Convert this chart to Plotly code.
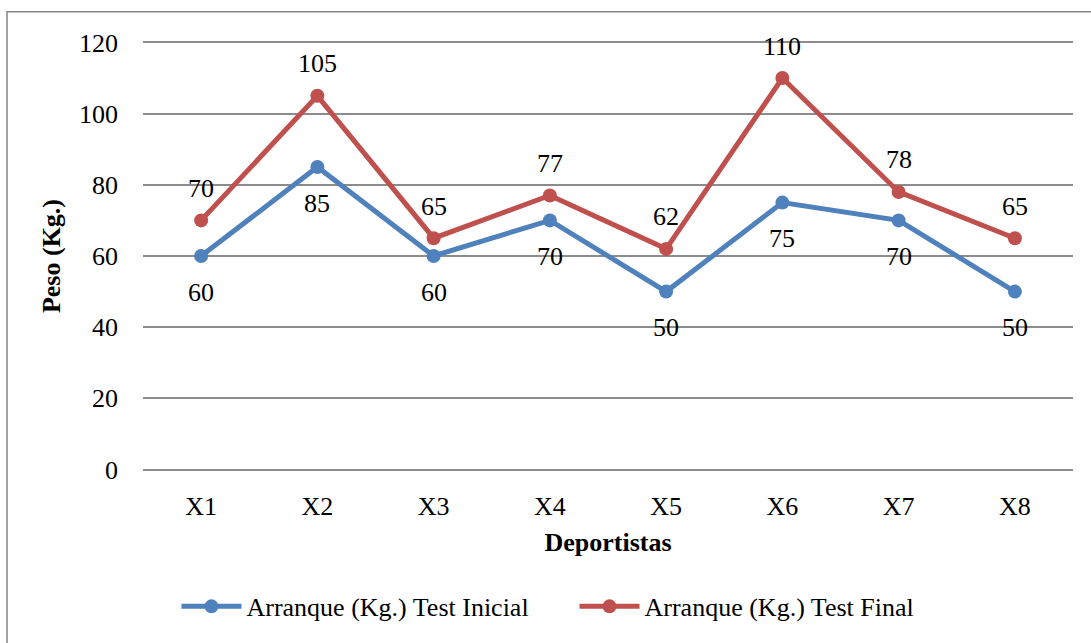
import plotly.graph_objects as go

categories = ["X1", "X2", "X3", "X4", "X5", "X6", "X7", "X8"]
test_inicial = [60, 85, 60, 70, 50, 75, 70, 50]
test_final = [70, 105, 65, 77, 62, 110, 78, 65]
y_ticks = [0, 20, 40, 60, 80, 100, 120]

BLUE = "#4F81BD"
RED = "#C0504D"
FONT = "Liberation Serif"
GRID = "#8C8C8C"
FS = 26

fig = go.Figure()
fig.add_trace(go.Scatter(
    x=categories, y=test_inicial, mode="lines+markers",
    name="Arranque (Kg.) Test Inicial", legend="legend",
    line=dict(color=BLUE, width=5), marker=dict(size=14, color=BLUE),
))
fig.add_trace(go.Scatter(
    x=categories, y=test_final, mode="lines+markers",
    name="Arranque (Kg.) Test Final", legend="legend2",
    line=dict(color=RED, width=5), marker=dict(size=14, color=RED),
))

annotations = []
for c, v in zip(categories, test_inicial):
    annotations.append(dict(x=c, y=v, text=str(v), showarrow=False, yshift=-36,
                            font=dict(family=FONT, size=FS, color="black")))
for c, v in zip(categories, test_final):
    annotations.append(dict(x=c, y=v, text=str(v), showarrow=False, yshift=32,
                            font=dict(family=FONT, size=FS, color="black")))

leg_common = dict(orientation="h", y=-0.315, yanchor="middle", xanchor="left",
                  font=dict(family=FONT, size=FS, color="black"),
                  itemwidth=60, bgcolor="rgba(0,0,0,0)")

fig.update_layout(
    width=1091, height=643,
    margin=dict(l=143, r=18, t=41, b=172),
    paper_bgcolor="white", plot_bgcolor="white",
    font=dict(family=FONT, size=FS, color="black"),
    showlegend=True,
    legend=dict(x=0.036, **leg_common),
    legend2=dict(x=0.464, **leg_common),
    annotations=annotations,
    shapes=[dict(type="rect", xref="paper", yref="paper",
                 x0=-0.1462, x1=1.2, y0=-0.6, y1=1.0678,
                 line=dict(color="#868686", width=1.5), fillcolor="rgba(0,0,0,0)", layer="below")],
)
fig.update_xaxes(
    type="category", range=[-0.5, 7.5], showgrid=False, showline=False, zeroline=False,
    ticks="", ticklabelstandoff=17,
    tickfont=dict(family=FONT, size=FS, color="black"),
    title=dict(text="<b>Deportistas</b>", standoff=12,
               font=dict(family=FONT, size=FS, color="black")),
)
fig.update_yaxes(
    range=[-0.4, 120.4], tickvals=y_ticks, showgrid=True, gridcolor=GRID, gridwidth=1.5,
    zeroline=False, showline=False, ticks="", ticklabelstandoff=24,
    tickfont=dict(family=FONT, size=FS, color="black"),
    title=dict(text="<b>Peso (Kg.)</b>", standoff=10,
               font=dict(family=FONT, size=FS, color="black")),
)

fig.write_html("out.html")
